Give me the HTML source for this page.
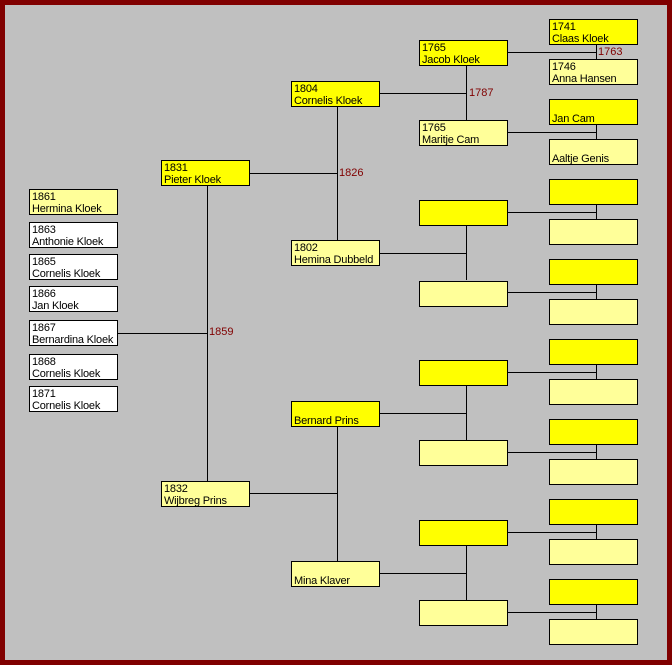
<!DOCTYPE html>
<html><head><meta charset="utf-8"><style>
html,body{margin:0;padding:0}
body{width:672px;height:665px;position:relative;background:#800000;overflow:hidden;font-family:"Liberation Sans",Arial,sans-serif}
#in{position:absolute;left:5px;top:5px;width:662px;height:655px;background:#c0c0c0}
.b{position:absolute;width:89px;height:26px;box-sizing:border-box;border:1px solid #000;font-size:11px;line-height:12px;padding:1px 0 0 2px;white-space:nowrap;overflow:hidden;color:#000;letter-spacing:-0.2px}
.m{background:#ffff00}.f{background:#ffff99}.w{background:#fff}
.l{position:absolute;font-size:11px;color:#800000;line-height:12px}
svg{position:absolute;left:0;top:0}
</style></head><body>
<div id="in"></div>
<svg width="672" height="665" stroke="#000" stroke-width="1" shape-rendering="crispEdges">
<line x1="117" y1="333.5" x2="207.5" y2="333.5"/>
<line x1="207.5" y1="186" x2="207.5" y2="481"/>
<line x1="249" y1="173.5" x2="337.5" y2="173.5"/>
<line x1="337.5" y1="106" x2="337.5" y2="240"/>
<line x1="249" y1="493.5" x2="337.5" y2="493.5"/>
<line x1="337.5" y1="426" x2="337.5" y2="561"/>
<line x1="379" y1="93.5" x2="466.5" y2="93.5"/><line x1="466.5" y1="65" x2="466.5" y2="120"/>
<line x1="379" y1="253.5" x2="466.5" y2="253.5"/><line x1="466.5" y1="225" x2="466.5" y2="280"/>
<line x1="379" y1="413.5" x2="466.5" y2="413.5"/><line x1="466.5" y1="385" x2="466.5" y2="440"/>
<line x1="379" y1="573.5" x2="466.5" y2="573.5"/><line x1="466.5" y1="545" x2="466.5" y2="600"/>
<line x1="507" y1="52.5" x2="596.5" y2="52.5"/><line x1="596.5" y1="44" x2="596.5" y2="59"/>
<line x1="507" y1="132.5" x2="596.5" y2="132.5"/><line x1="596.5" y1="124" x2="596.5" y2="139"/>
<line x1="507" y1="212.5" x2="596.5" y2="212.5"/><line x1="596.5" y1="204" x2="596.5" y2="219"/>
<line x1="507" y1="292.5" x2="596.5" y2="292.5"/><line x1="596.5" y1="284" x2="596.5" y2="299"/>
<line x1="507" y1="372.5" x2="596.5" y2="372.5"/><line x1="596.5" y1="364" x2="596.5" y2="379"/>
<line x1="507" y1="452.5" x2="596.5" y2="452.5"/><line x1="596.5" y1="444" x2="596.5" y2="459"/>
<line x1="507" y1="532.5" x2="596.5" y2="532.5"/><line x1="596.5" y1="524" x2="596.5" y2="539"/>
<line x1="507" y1="612.5" x2="596.5" y2="612.5"/><line x1="596.5" y1="604" x2="596.5" y2="619"/>
</svg>

<div class="b f" style="left:29px;top:189px">1861<br>Hermina Kloek</div>
<div class="b w" style="left:29px;top:222px">1863<br>Anthonie Kloek</div>
<div class="b w" style="left:29px;top:254px">1865<br>Cornelis Kloek</div>
<div class="b w" style="left:29px;top:286px">1866<br>Jan Kloek</div>
<div class="b w" style="left:29px;top:320px">1867<br>Bernardina Kloek</div>
<div class="b w" style="left:29px;top:354px">1868<br>Cornelis Kloek</div>
<div class="b w" style="left:29px;top:386px">1871<br>Cornelis Kloek</div>

<div class="b m" style="left:161px;top:160px">1831<br>Pieter Kloek</div>
<div class="b f" style="left:161px;top:481px">1832<br>Wijbreg Prins</div>

<div class="b m" style="left:291px;top:81px">1804<br>Cornelis Kloek</div>
<div class="b f" style="left:291px;top:240px">1802<br>Hemina Dubbeld</div>
<div class="b m" style="left:291px;top:401px"><br>Bernard Prins</div>
<div class="b f" style="left:291px;top:561px"><br>Mina Klaver</div>

<div class="b m" style="left:419px;top:40px">1765<br>Jacob Kloek</div>
<div class="b f" style="left:419px;top:120px">1765<br>Maritje Cam</div>
<div class="b m" style="left:419px;top:200px"></div>
<div class="b f" style="left:419px;top:281px"></div>
<div class="b m" style="left:419px;top:360px"></div>
<div class="b f" style="left:419px;top:440px"></div>
<div class="b m" style="left:419px;top:520px"></div>
<div class="b f" style="left:419px;top:600px"></div>

<div class="b m" style="left:549px;top:19px">1741<br>Claas Kloek</div>
<div class="b f" style="left:549px;top:59px">1746<br>Anna Hansen</div>
<div class="b m" style="left:549px;top:99px"><br>Jan Cam</div>
<div class="b f" style="left:549px;top:139px"><br>Aaltje Genis</div>
<div class="b m" style="left:549px;top:179px"></div>
<div class="b f" style="left:549px;top:219px"></div>
<div class="b m" style="left:549px;top:259px"></div>
<div class="b f" style="left:549px;top:299px"></div>
<div class="b m" style="left:549px;top:339px"></div>
<div class="b f" style="left:549px;top:379px"></div>
<div class="b m" style="left:549px;top:419px"></div>
<div class="b f" style="left:549px;top:459px"></div>
<div class="b m" style="left:549px;top:499px"></div>
<div class="b f" style="left:549px;top:539px"></div>
<div class="b m" style="left:549px;top:579px"></div>
<div class="b f" style="left:549px;top:619px"></div>

<div class="l" style="left:209px;top:326px">1859</div>
<div class="l" style="left:339px;top:167px">1826</div>
<div class="l" style="left:469px;top:87px">1787</div>
<div class="l" style="left:598px;top:46px">1763</div>
</body></html>
